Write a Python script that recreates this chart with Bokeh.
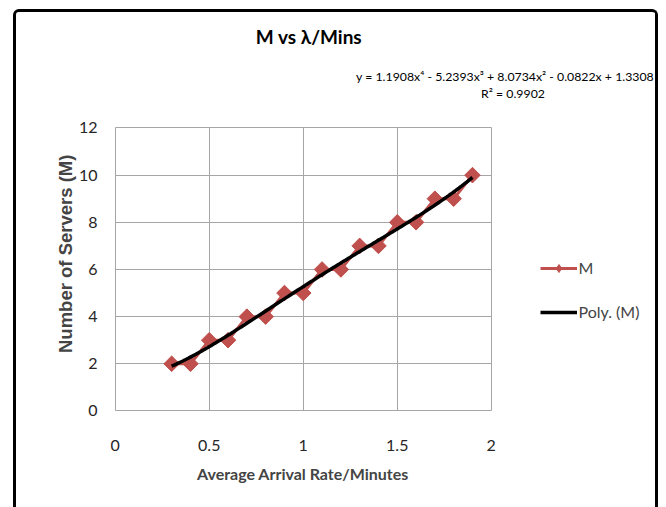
import numpy as np
from bokeh.plotting import figure
from bokeh.models import Range1d, Legend, LegendItem, FixedTicker, Title, Label
from bokeh.embed import file_html
from bokeh.resources import INLINE

# ---- data ----
arrival_rate = [0.3, 0.4, 0.5, 0.6, 0.7, 0.8, 0.9, 1.0, 1.1, 1.2,
                1.3, 1.4, 1.5, 1.6, 1.7, 1.8, 1.9]
servers = [2, 2, 3, 3, 4, 4, 5, 5, 6, 6, 7, 7, 8, 8, 9, 9, 10]
trend_coeffs = [1.1908, -5.2393, 8.0734, -0.0822, 1.3308]  # x^4 .. x^0

x_ticks = [0, 0.5, 1, 1.5, 2]
x_tick_labels = ["0", "0.5", "1", "1.5", "2"]
y_ticks = [0, 2, 4, 6, 8, 10, 12]
y_tick_labels = ["0", "2", "4", "6", "8", "10", "12"]

title_text = "M vs λ/Mins"
equation_text = "y = 1.1908x⁴ - 5.2393x³ + 8.0734x² - 0.0822x + 1.3308"
r2_text = "R² = 0.9902"
x_label = "Average Arrival Rate/Minutes"
y_label = "Number of Servers (M)"
series_name = "M"
trend_name = "Poly. (M)"

FONT = "Lato"
RED = "#C0504D"
GRID = "#a6a6a6"

# ---- geometry (pixels) ----
CANVAS_X0, CANVAS_Y0 = 16.5, 12.5          # canvas origin on the page (inside CSS border)
MB_LEFT, MB_RIGHT, MB_TOP, MB_BOTTOM = 95, 0, 2, 93
FRAME_W, FRAME_H = 544, 400
PX_X = 188.0                               # pixels per x unit
PX_Y = 283.0 / 12.0                        # pixels per y unit
X_START, Y_START = -0.02, -0.15
FRAME_LEFT_PAGE = CANVAS_X0 + MB_LEFT
FRAME_BOTTOM_PAGE = CANVAS_Y0 + MB_TOP + FRAME_H


def dx(page_x):
    return X_START + (page_x - FRAME_LEFT_PAGE) / PX_X


def dy(page_y):
    return Y_START + (FRAME_BOTTOM_PAGE - page_y) / PX_Y


p = figure(frame_width=FRAME_W, frame_height=FRAME_H, title=None,
           output_backend="svg", toolbar_location=None,
           x_range=Range1d(X_START, X_START + FRAME_W / PX_X),
           y_range=Range1d(Y_START, Y_START + FRAME_H / PX_Y),
           min_border_left=MB_LEFT, min_border_right=MB_RIGHT,
           min_border_top=MB_TOP, min_border_bottom=MB_BOTTOM)
# outer chart border (Excel chart area)
p.styles = {"border": "3.5px solid black", "border-bottom": "none",
            "border-radius": "6px 6px 0 0", "margin-left": "13px", "margin-top": "9px"}
p.background_fill_color = "white"
p.border_fill_color = "white"
p.outline_line_color = None

# axes
p.xaxis.ticker = FixedTicker(ticks=x_ticks)
p.yaxis.ticker = FixedTicker(ticks=y_ticks)
p.xaxis.bounds = (x_ticks[0], x_ticks[-1])
p.yaxis.bounds = (y_ticks[0], y_ticks[-1])
p.xaxis.major_label_overrides = {t: l for t, l in zip(x_ticks, x_tick_labels)}
p.yaxis.major_label_overrides = {t: l for t, l in zip(y_ticks, y_tick_labels)}
for ax in (p.xaxis, p.yaxis):
    ax.axis_line_color = None
    ax.major_tick_line_color = None
    ax.minor_tick_line_color = None
    ax.major_label_text_font = FONT
    ax.major_label_text_font_size = "16px"
    ax.major_label_text_color = "#262626"
p.xaxis.major_label_standoff = 19
p.yaxis.major_label_standoff = 8

# grid = plot area lines (incl. its border at 0/2 and 0/12)
xg, yg = p.xgrid[0], p.ygrid[0]
xg.ticker = FixedTicker(ticks=x_ticks)
yg.ticker = FixedTicker(ticks=y_ticks)
xg.grid_line_color = GRID
yg.grid_line_color = GRID
try:
    xg.cross_bounds = (y_ticks[0], y_ticks[-1])
    yg.cross_bounds = (x_ticks[0], x_ticks[-1])
except Exception:
    xg.visible = False
    yg.visible = False
    p.segment(x0=x_ticks, y0=[y_ticks[0]] * len(x_ticks), x1=x_ticks,
              y1=[y_ticks[-1]] * len(x_ticks), line_color=GRID, line_width=1)
    p.segment(x0=[x_ticks[0]] * len(y_ticks), y0=y_ticks, x1=[x_ticks[-1]] * len(y_ticks),
              y1=y_ticks, line_color=GRID, line_width=1)

# axis titles
p.add_layout(Title(text=x_label, align="left", offset=85.5, standoff=20,
                   text_font=FONT, text_font_size="16px", text_font_style="bold",
                   vertical_align="top"), "below")
p.add_layout(Title(text=y_label, align="left", offset=61.5, standoff=0,
                   text_font="Liberation Sans", text_font_size="18.5px",
                   text_font_style="bold"), "left")

# series
line_r = p.line(arrival_rate, servers, line_color=RED, line_width=3)
# diamond used for the legend swatch (hidden under the plotted markers)
legend_marker = p.scatter(arrival_rate, servers, marker="diamond", size=14,
                          fill_color=RED, line_color=RED)
scat_r = p.scatter(arrival_rate, servers, marker="square", angle=np.pi / 4,
                   size=11, fill_color=RED, line_color=RED)
xs = np.linspace(min(arrival_rate), max(arrival_rate), 200)
trend_r = p.line(xs, np.polyval(trend_coeffs, xs), line_color="black", line_width=3.5)

legend = Legend(items=[LegendItem(label=series_name, renderers=[line_r, legend_marker]),
                       LegendItem(label=trend_name, renderers=[trend_r])],
                location=(540 - FRAME_LEFT_PAGE, FRAME_BOTTOM_PAGE - 322),
                glyph_width=37, glyph_height=20,
                label_height=20, label_standoff=2, spacing=24, padding=0, margin=0,
                border_line_color=None, background_fill_alpha=0,
                label_text_font=FONT, label_text_font_size="16px")
p.add_layout(legend)


def add_text(txt, page_x, page_y, size, bold=False):
    p.add_layout(Label(x=dx(page_x), y=dy(page_y), text=txt,
                       text_font=FONT, text_font_size=size,
                       text_font_style="bold" if bold else "normal",
                       text_align="center", text_baseline="middle",
                       text_color="black"))


add_text(title_text, 309, 36, "19px", bold=True)
add_text(equation_text, 505, 76.5, "12.3px")
add_text(r2_text, 513, 93, "12.3px")

open("out.html", "w").write(file_html(p, INLINE))
